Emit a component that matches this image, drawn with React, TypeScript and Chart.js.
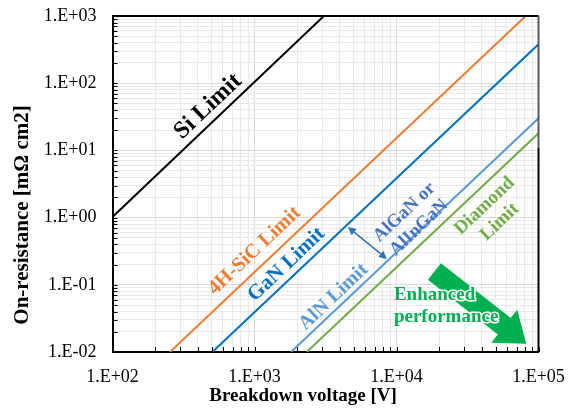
import React, { useEffect, useRef } from 'react';
import { Chart, registerables } from 'chart.js';

Chart.register(...registerables);

// ---- Data ----
const xMajorTicks = [1e2, 1e3, 1e4, 1e5];
const yMajorTicks = [1e-2, 1e-1, 1e0, 1e1, 1e2, 1e3];

const siVoltage = [100, 3080];
const siRon = [1.02, 1000];
const sicVoltage = [254, 81300];
const sicRon = [0.01, 1000];
const ganVoltage = [505, 100000];
const ganRon = [0.01, 380];
const alnVoltage = [1807, 100000];
const alnRon = [0.01, 30];
const diamondVoltage = [2333, 100000];
const diamondRon = [0.01, 18];

const xTitle = 'Breakdown voltage [V]';
const yTitle = 'On-resistance [mΩ cm2]';

// ---- Styling / annotations ----
const FONT = '"Liberation Serif", "Times New Roman", serif';

type Ann = { lines: string[]; x: number; y: number; color: string; size: number; rotate: boolean; lh?: number };
const annotations: Ann[] = [
  { lines: ['Si Limit'], x: 470, y: 45, color: '#000000', size: 24, rotate: true },
  { lines: ['4H-SiC Limit'], x: 1000, y: 0.32, color: '#ED7D31', size: 20.5, rotate: true },
  { lines: ['GaN Limit'], x: 1680, y: 0.2, color: '#0070C0', size: 21, rotate: true },
  { lines: ['AlN Limit'], x: 3600, y: 0.066, color: '#5B9BD5', size: 20, rotate: true },
  { lines: ['AlGaN or', 'AlInGaN'], x: 12800, y: 0.92, color: '#4472C4', size: 18.5, rotate: true, lh: 21 },
  { lines: ['Diamond', 'Limit'], x: 47100, y: 1.13, color: '#70AD47', size: 19, rotate: true, lh: 22 },
];
const enhanced = { lines: ['Enhanced', 'performance'], x: 9590, y: 0.0484, color: '#00B050', size: 19, lh: 22 };

const smallArrow = { from: [4550, 0.724], to: [8570, 0.242], color: '#2E75B6' };
const bigArrow = { from: [18500, 0.158], to: [82000, 0.0133], color: '#00B050' };

function buildTicks(majors: number[]) {
  const out: number[] = [];
  for (let i = 0; i < majors.length - 1; i++) {
    for (let k = 1; k < 10; k++) out.push(majors[i] * k);
  }
  out.push(majors[majors.length - 1]);
  return out;
}
const isPow10 = (v: number) => Math.abs(Math.log10(v) - Math.round(Math.log10(v))) < 1e-9;
const fmt = (v: number) => {
  const e = Math.round(Math.log10(v));
  return '1.E' + (e < 0 ? '-' : '+') + String(Math.abs(e)).padStart(2, '0');
};

const decorPlugin = {
  id: 'decor',
  afterDatasetsDraw(chart: any) {
    const ctx: CanvasRenderingContext2D = chart.ctx;
    const xs = chart.scales.x;
    const ys = chart.scales.y;
    const a = chart.chartArea;
    ctx.save();
    // frame top/right
    ctx.strokeStyle = '#000';
    ctx.lineWidth = 2;
    ctx.beginPath();
    ctx.moveTo(a.left, a.top);
    ctx.lineTo(a.right, a.top);
    ctx.stroke();
    const yBreak = ys.getPixelForValue(11);
    ctx.strokeStyle = '#595959';
    ctx.beginPath();
    ctx.moveTo(a.right, a.top);
    ctx.lineTo(a.right, yBreak);
    ctx.stroke();
    ctx.strokeStyle = '#000';
    ctx.beginPath();
    ctx.moveTo(a.right, yBreak);
    ctx.lineTo(a.right, a.bottom);
    ctx.stroke();
    // inward minor ticks
    ctx.lineWidth = 1;
    ctx.strokeStyle = '#000';
    ctx.beginPath();
    for (const v of buildTicks(xMajorTicks)) {
      const px = Math.round(xs.getPixelForValue(v)) + 0.5;
      ctx.moveTo(px, a.bottom);
      ctx.lineTo(px, a.bottom - 5);
    }
    for (const v of buildTicks(yMajorTicks)) {
      const py = Math.round(ys.getPixelForValue(v)) + 0.5;
      ctx.moveTo(a.left, py);
      ctx.lineTo(a.left + 5, py);
    }
    ctx.stroke();

    // angle of slope-2 lines on screen
    const dx = xs.getPixelForValue(1e3) - xs.getPixelForValue(1e2);
    const dy = ys.getPixelForValue(1e0) - ys.getPixelForValue(1e2);
    const ang = -Math.atan2(dy, dx);

    // small double arrow
    {
      const x0 = xs.getPixelForValue(smallArrow.from[0]);
      const y0 = ys.getPixelForValue(smallArrow.from[1]);
      const x1 = xs.getPixelForValue(smallArrow.to[0]);
      const y1 = ys.getPixelForValue(smallArrow.to[1]);
      const th = Math.atan2(y1 - y0, x1 - x0);
      ctx.strokeStyle = smallArrow.color;
      ctx.fillStyle = smallArrow.color;
      ctx.lineWidth = 1.5;
      const hl = 8, hw = 4;
      ctx.beginPath();
      ctx.moveTo(x0 + Math.cos(th) * hl, y0 + Math.sin(th) * hl);
      ctx.lineTo(x1 - Math.cos(th) * hl, y1 - Math.sin(th) * hl);
      ctx.stroke();
      const head = (tx: number, ty: number, t: number) => {
        ctx.beginPath();
        ctx.moveTo(tx, ty);
        ctx.lineTo(tx - Math.cos(t) * hl - Math.sin(t) * hw, ty - Math.sin(t) * hl + Math.cos(t) * hw);
        ctx.lineTo(tx - Math.cos(t) * hl + Math.sin(t) * hw, ty - Math.sin(t) * hl - Math.cos(t) * hw);
        ctx.closePath();
        ctx.fill();
      };
      head(x1, y1, th);
      head(x0, y0, th + Math.PI);
    }

    // big green arrow
    {
      const x0 = xs.getPixelForValue(bigArrow.from[0]);
      const y0 = ys.getPixelForValue(bigArrow.from[1]);
      const x1 = xs.getPixelForValue(bigArrow.to[0]);
      const y1 = ys.getPixelForValue(bigArrow.to[1]);
      const th = Math.atan2(y1 - y0, x1 - x0);
      const L = Math.hypot(x1 - x0, y1 - y0);
      const sw = 10.5, hw = 21, hl = 28;
      ctx.save();
      ctx.translate(x0, y0);
      ctx.rotate(th);
      ctx.fillStyle = bigArrow.color;
      ctx.beginPath();
      ctx.moveTo(0, -sw);
      ctx.lineTo(L - hl, -sw);
      ctx.lineTo(L - hl, -hw);
      ctx.lineTo(L, 0);
      ctx.lineTo(L - hl, hw);
      ctx.lineTo(L - hl, sw);
      ctx.lineTo(0, sw);
      ctx.closePath();
      ctx.fill();
      ctx.restore();
    }

    // rotated annotations
    ctx.textBaseline = 'middle';
    for (const an of annotations) {
      const px = xs.getPixelForValue(an.x);
      const py = ys.getPixelForValue(an.y);
      ctx.save();
      ctx.translate(px, py);
      if (an.rotate) ctx.rotate(ang);
      ctx.font = `bold ${an.size}px ${FONT}`;
      ctx.fillStyle = an.color;
      ctx.textAlign = 'center';
      const lh = an.lh || an.size * 1.1;
      an.lines.forEach((t, i) => {
        ctx.fillText(t, 0, (i - (an.lines.length - 1) / 2) * lh);
      });
      ctx.restore();
    }

    // enhanced performance (outlined, left aligned)
    {
      const px = xs.getPixelForValue(enhanced.x);
      const py = ys.getPixelForValue(enhanced.y);
      ctx.font = `bold ${enhanced.size}px ${FONT}`;
      ctx.textAlign = 'left';
      ctx.lineJoin = 'round';
      enhanced.lines.forEach((t, i) => {
        const yy = py + (i - (enhanced.lines.length - 1) / 2) * enhanced.lh;
        ctx.strokeStyle = '#ffffff';
        ctx.lineWidth = 3;
        ctx.strokeText(t, px, yy);
        ctx.fillStyle = enhanced.color;
        ctx.fillText(t, px, yy);
      });
    }

    // axis titles
    ctx.fillStyle = '#000';
    ctx.textAlign = 'center';
    ctx.textBaseline = 'alphabetic';
    ctx.font = `bold 19px ${FONT}`;
    ctx.fillText(xTitle, 303, 401);
    ctx.save();
    ctx.translate(28, 215);
    ctx.rotate(-Math.PI / 2);
    ctx.font = `bold 21px ${FONT}`;
    ctx.fillText(yTitle, 0, 0);
    ctx.restore();

    ctx.restore();
  },
};

function mkLine(label: string, xsArr: number[], ysArr: number[], color: string) {
  return {
    label,
    data: xsArr.map((x, i) => ({ x, y: ysArr[i] })),
    borderColor: color,
    backgroundColor: color,
    borderWidth: 2,
    pointRadius: 0,
    fill: false,
    tension: 0,
  };
}

export default function App() {
  const ref = useRef<HTMLCanvasElement | null>(null);
  useEffect(() => {
    if (!ref.current) return;
    const gridColor = (c: any) => (c.tick && isPow10(c.tick.value) ? '#d9d9d9' : '#e9e9e9');
    const chart = new Chart(ref.current, {
      type: 'line',
      data: {
        datasets: [
          mkLine('Si Limit', siVoltage, siRon, '#000000'),
          mkLine('4H-SiC Limit', sicVoltage, sicRon, '#ED7D31'),
          mkLine('GaN Limit', ganVoltage, ganRon, '#0070C0'),
          mkLine('AlN Limit', alnVoltage, alnRon, '#5B9BD5'),
          mkLine('Diamond Limit', diamondVoltage, diamondRon, '#70AD47'),
        ] as any,
      },
      options: {
        animation: false,
        responsive: false,
        events: [],
        layout: { padding: { top: 16, right: 31.5, left: 0, bottom: 0 } },
        plugins: { legend: { display: false }, tooltip: { enabled: false }, title: { display: false } },
        scales: {
          x: {
            type: 'logarithmic',
            min: 1e2,
            max: 1e5,
            afterBuildTicks: (s: any) => {
              s.ticks = buildTicks(xMajorTicks).map((v) => ({ value: v, major: isPow10(v) }));
            },
            afterFit: (s: any) => {
              s.height = 63;
              s.paddingLeft = 0;
              s.paddingRight = 0;
              s.paddingTop = 0;
              s.paddingBottom = 0;
            },
            ticks: {
              autoSkip: false,
              maxRotation: 0,
              padding: 14,
              color: '#000',
              font: { family: FONT, size: 18 },
              callback: (v: any) => (isPow10(Number(v)) ? fmt(Number(v)) : ''),
            },
            grid: { color: gridColor, lineWidth: 1, drawTicks: false },
            border: { display: true, color: '#000', width: 2 },
          },
          y: {
            type: 'logarithmic',
            min: 1e-2,
            max: 1e3,
            afterBuildTicks: (s: any) => {
              s.ticks = buildTicks(yMajorTicks).map((v) => ({ value: v, major: isPow10(v) }));
            },
            afterFit: (s: any) => {
              s.width = 112.5;
              s.paddingLeft = 0;
              s.paddingRight = 0;
              s.paddingTop = 0;
              s.paddingBottom = 0;
            },
            ticks: {
              autoSkip: false,
              padding: 16,
              color: '#000',
              font: { family: FONT, size: 18 },
              callback: (v: any) => (isPow10(Number(v)) ? fmt(Number(v)) : ''),
            },
            grid: { color: gridColor, lineWidth: 1, drawTicks: false },
            border: { display: true, color: '#000', width: 2 },
          },
        },
      },
      plugins: [decorPlugin],
    });
    return () => chart.destroy();
  }, []);
  return (
    <div style={{ position: 'absolute', left: 0, top: 0, width: 570, height: 415, background: '#fff' }}>
      <canvas ref={ref} width={570} height={415} style={{ display: 'block', width: 570, height: 415 }} />
    </div>
  );
}
